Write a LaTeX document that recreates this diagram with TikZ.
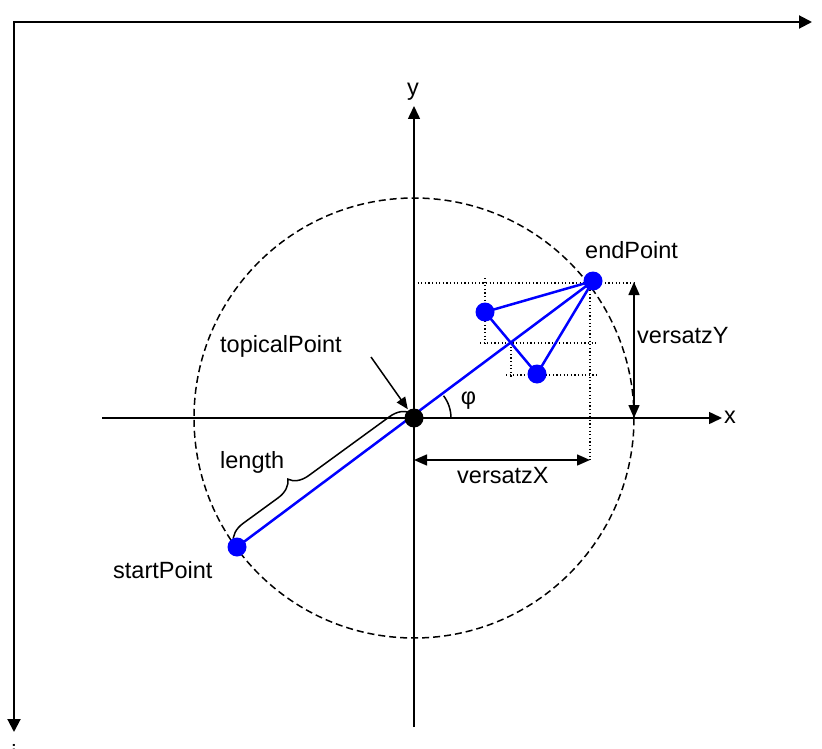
\documentclass[tikz,border=0pt]{standalone}
\usepackage{fontspec}
\setmainfont{Liberation Sans}
\usetikzlibrary{arrows.meta,decorations.pathreplacing}
\begin{document}
\begin{tikzpicture}[x=1pt,y=-1pt,
  lbl/.style={inner sep=0pt, anchor=base west, font=\fontsize{23.5}{28}\selectfont},
  axis/.style={line width=1.5pt, -{Triangle[length=13pt,width=12pt]}},
  framearr/.style={line width=2pt, line join=miter, {Triangle[length=13pt,width=13pt]}-{Triangle[length=13pt,width=13pt]}},
  dimarr/.style={line width=1.5pt, {Triangle[length=13pt,width=11pt]}-{Triangle[length=13pt,width=11pt]}},
  dotln/.style={line width=1.2pt, dash pattern=on 1.2pt off 2.4pt},
  dashc/.style={line width=1.5pt, dash pattern=on 7pt off 4pt},
  bl/.style={blue, line width=2.5pt},
  bdot/.style={circle, fill=blue, inner sep=0pt, minimum size=19pt},
  kdot/.style={circle, fill=black, inner sep=0pt, minimum size=19pt},
  thin/.style={line width=1.5pt},
]
\useasboundingbox (0,0) rectangle (822,749);
% key points
\coordinate (O) at (414,418);
\coordinate (S) at (237,547);
\coordinate (E) at (593,281);
\coordinate (T1) at (485,312);
\coordinate (T2) at (537,374);
% frame
\coordinate (F) at (14,22);
\coordinate (FR) at (812,22);
\coordinate (FB) at (14,732);
\draw[framearr] (FR) -- (F) -- (FB);
\node[lbl, anchor=base] (ilbl) at (14,761) {i};
% dotted helper lines
\coordinate (D1a) at (414,283); \coordinate (D1b) at (634,283);
\draw[dotln] (D1a) -- (D1b);
\coordinate (D2a) at (590,283); \coordinate (D2b) at (590,460);
\draw[dotln] (D2a) -- (D2b);
\coordinate (D3a) at (485,278); \coordinate (D3b) at (485,343);
\draw[dotln] (D3a) -- (D3b);
\coordinate (D4a) at (480,343); \coordinate (D4b) at (598,343);
\draw[dotln] (D4a) -- (D4b);
\coordinate (D5a) at (511,343); \coordinate (D5b) at (511,378);
\draw[dotln] (D5a) -- (D5b);
\coordinate (D6a) at (506,375); \coordinate (D6b) at (598,375);
\draw[dotln] (D6a) -- (D6b);
% dashed circle
\draw[dashc] (O) circle[radius=220pt];
% axes
\coordinate (XL) at (102,418); \coordinate (XR) at (722,418);
\coordinate (YB) at (414,727); \coordinate (YT) at (414,106);
\draw[axis] (XL) -- (XR);
\draw[axis] (YB) -- (YT);
\node[lbl] (xlbl) at (724,423) {x};
\node[lbl] (ylbl) at (407,95.5) {y};
% angle
\draw[thin] (O) ++(37pt,0pt) arc[start angle=0, end angle=37, radius=37pt];
\node[inner sep=0pt, font=\fontsize{23.5}{28}\selectfont] (phi) at (468.5,401) {φ};
% dimension arrows
\coordinate (VX1) at (414,460); \coordinate (VX2) at (590,460);
\draw[dimarr] (VX1) -- (VX2);
\node[lbl] (vxlbl) at (457,483) {versatzX};
\coordinate (VY1) at (634,282); \coordinate (VY2) at (634,418);
\draw[dimarr] (VY1) -- (VY2);
\node[lbl] (vylbl) at (637,343) {versatzY};
% blue lines
\draw[bl] (S) -- (E);
\draw[bl] (T1) -- (E);
\draw[bl] (T1) -- (T2);
\draw[bl] (T2) -- (E);
% brace
\draw[thin, decorate, decoration={brace, amplitude=19pt, aspect=0.37, raise=6pt}] (S) -- (O);
\node[lbl] (lenlbl) at (220,468) {length};
% dots
\node[kdot] (Odot) at (O) {};
\node[bdot] (Sdot) at (S) {};
\node[bdot] (Edot) at (E) {};
\node[bdot] (T1dot) at (T1) {};
\node[bdot] (T2dot) at (T2) {};
% topicalPoint arrow
\node[lbl] (toplbl) at (220,352) {topicalPoint};
\coordinate (TA) at (371,357);
\draw[thin, -{Triangle[length=12pt,width=10pt]}, shorten >=1pt] (TA) -- (Odot);
\node[lbl] (slbl) at (113,578) {startPoint};
\node[lbl] (elbl) at (585,258) {endPoint};
\end{tikzpicture}
\end{document}
